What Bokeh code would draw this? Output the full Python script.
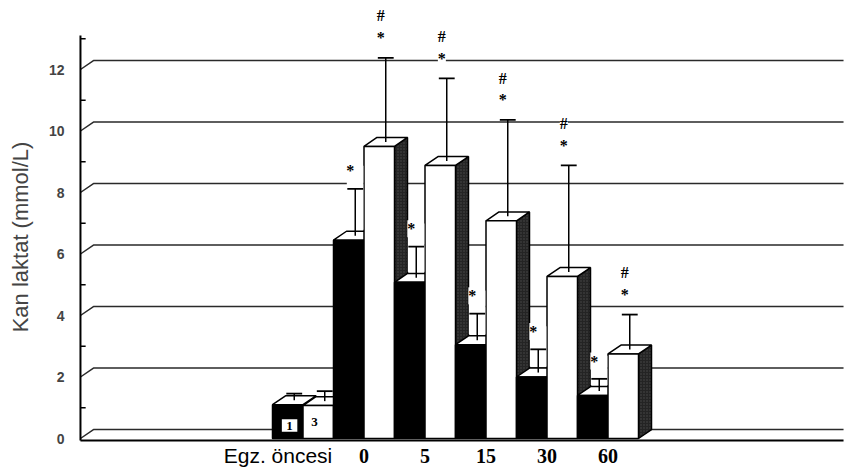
from bokeh.plotting import figure
from bokeh.models import ColumnDataSource, FixedTicker, Range1d, LabelSet
from bokeh.embed import file_html
from bokeh.resources import INLINE
from bokeh.core.properties import value

# ---- data ----
categories = ["Egz. öncesi", "0", "5", "15", "30", "60"]
series_names = ["1", "3"]
group1 = [1.10, 6.45, 5.08, 3.05, 2.00, 1.40]       # black bars
group3 = [1.07, 9.50, 8.88, 7.08, 5.27, 2.75]       # white bars
upper1 = [1.46, 8.12, 6.24, 4.06, 2.90, 1.94]       # error-bar tops, black
upper3 = [1.54, 12.38, 11.71, 10.36, 8.88, 4.03]    # error-bar tops, white
star1 = ["", "*", "*", "*", "*", "*"]
star3 = ["", "*", "*", "*", "*", "*"]
hash3 = ["", "#", "#", "#", "#", "#"]
y_ticks = [0, 2, 4, 6, 8, 10, 12]
y_minor = [1, 3, 5, 7, 9, 11, 13]

# ---- style / geometry ----
DX, DY = 0.213, 0.29      # 3D depth offsets (data units)
BW = 0.5                  # bar width
XS, XE = -3.713, 9.008    # frame x range
YS, YE = -1.138, 14.244   # frame y range
X_AX, X_R = -3.648, 8.861 # axis position / right end of floor
Y_BASE, Y_TOP = -0.065, 13.106
SIDE = "#242424"
SERIF = "Liberation Serif"
SANS = "Liberation Sans"

p = figure(width=852, height=473, output_backend="svg", toolbar_location=None,
           x_range=Range1d(XS, XE), y_range=Range1d(YS, YE), x_axis_location=None,
           min_border_left=76, min_border_right=0, min_border_top=0, min_border_bottom=0)
p.outline_line_color = None
p.grid.visible = False
p.background_fill_color = "white"

# back gridlines with diagonal joins to the axis
gx, gy = [], []
for v in y_ticks:
    gx.append([X_AX, X_AX + DX, X_R])
    gy.append([v, v + DY, v + DY])
p.multi_line(gx, gy, line_color="#2a2a2a", line_width=1.5)

# 3D bars, drawn bar by bar (side, top, front)
xs, ys, fills, hatches = [], [], [], []
for i in range(len(categories)):
    for k, (vals, front) in enumerate(((group1, "black"), (group3, "white"))):
        v = vals[i]
        a = i - BW + k * BW
        b = a + BW
        xs.append([b, b + DX, b + DX, b]); ys.append([0, DY, v + DY, v])
        fills.append(SIDE); hatches.append("dot")
        xs.append([a, a + DX, b + DX, b]); ys.append([v, v + DY, v + DY, v])
        fills.append("white"); hatches.append(" ")
        xs.append([a, a, b, b]); ys.append([0, v, v, 0])
        fills.append(front); hatches.append(" ")
bars = ColumnDataSource(dict(xs=xs, ys=ys, fill=fills, hatch=hatches))
p.patches("xs", "ys", source=bars, fill_color="fill", line_color="black", line_width=1.5,
          hatch_pattern="hatch", hatch_color="#4a4a4a", hatch_scale=3, hatch_weight=1)

# white gaps behind the black bars' error bars
bx0, bx1, by0, by1 = [], [], [], []
for i in range(1, len(categories)):
    bx0.append(i - BW + DX + 0.005); bx1.append(i - 0.01)
    by0.append(group1[i] + DY + 0.05); by1.append(upper1[i] + 0.75)
p.quad(left=bx0, right=bx1, bottom=by0, top=by1, fill_color="white", line_color=None)

# axes lines (front floor line and vertical axis)
p.segment(x0=[X_AX, X_AX], y0=[Y_BASE, Y_BASE], x1=[X_R, X_AX], y1=[Y_BASE, Y_TOP],
          line_color="black", line_width=2)
p.segment(x0=[X_AX] * len(y_minor), y0=y_minor, x1=[X_AX + 0.085] * len(y_minor), y1=y_minor,
          line_color="black", line_width=1.5)

# error bars
ex, ey0, ey1 = [], [], []
for i in range(len(categories)):
    for k, (vals, ups) in enumerate(((group1, upper1), (group3, upper3))):
        x = i - BW / 2 + k * BW + DX / 2
        ex.append(x); ey0.append(vals[i] + DY / 2); ey1.append(ups[i])
p.segment(x0=ex, y0=ey0, x1=ex, y1=ey1, line_color="black", line_width=1.5)
cap = 0.13
p.segment(x0=[x - cap for x in ex], y0=ey1, x1=[x + cap for x in ex], y1=ey1,
          line_color="black", line_width=1.8)

# significance marks
lx, ly, lt = [], [], []
for i in range(len(categories)):
    x1 = i - BW / 2 + DX / 2 - 0.08
    x3 = i + BW / 2 + DX / 2 - 0.08
    if star1[i]:
        lx.append(x1); ly.append(upper1[i] + 0.58); lt.append(star1[i])
    if star3[i]:
        lx.append(x3); ly.append(upper3[i] + 0.66); lt.append(star3[i])
    if hash3[i]:
        lx.append(x3); ly.append(upper3[i] + 1.36); lt.append(hash3[i])
marks = ColumnDataSource(dict(x=lx, y=ly, t=lt))
p.add_layout(LabelSet(x="x", y="y", text="t", source=marks, text_align="center",
                      text_baseline="middle", text_font=value(SERIF),
                      text_font_size="16px", text_font_style="bold", text_color="black",
                      background_fill_color="white"))

# series identifiers on the first pair of bars
p.rect(x=[0 - BW / 2 + 0.03], y=[0.42], width=17, height=14, width_units="screen",
       height_units="screen", fill_color="white", line_color="black", line_width=1.5)
p.text(x=[0 - BW / 2 + 0.03, 0 + BW / 2 - 0.06], y=[0.42, 0.55], text=series_names,
       text_align="center", text_baseline="middle", text_font=value(SERIF),
       text_font_size="13px", text_font_style="bold", text_color="black")

# category labels under the floor
p.text(x=list(range(1, len(categories))), y=[-0.56] * (len(categories) - 1),
       text=categories[1:], text_align="center", text_baseline="middle",
       text_font=value(SERIF), text_font_size="20px", text_font_style="bold", text_color="black")
p.text(x=[0], y=[-0.56], x_offset=-25, text=categories[:1], text_align="center",
       text_baseline="middle", text_font=value(SANS), text_font_size="21px", text_color="black")

# y axis (labels only; line and ticks drawn above)
yax = p.yaxis[0]
yax.ticker = FixedTicker(ticks=y_ticks, minor_ticks=[])
yax.axis_label = "Kan laktat (mmol/L)"
yax.axis_label_text_font = SANS
yax.axis_label_text_font_style = "normal"
yax.axis_label_text_font_size = "22px"
yax.axis_label_standoff = 13
yax.major_label_text_font = SANS
yax.major_label_text_font_style = "bold"
yax.major_label_text_font_size = "14px"
yax.major_label_standoff = 12
yax.major_tick_in = 0
yax.major_tick_out = 0
yax.axis_line_color = None

open("out.html", "w").write(file_html(p, INLINE))
